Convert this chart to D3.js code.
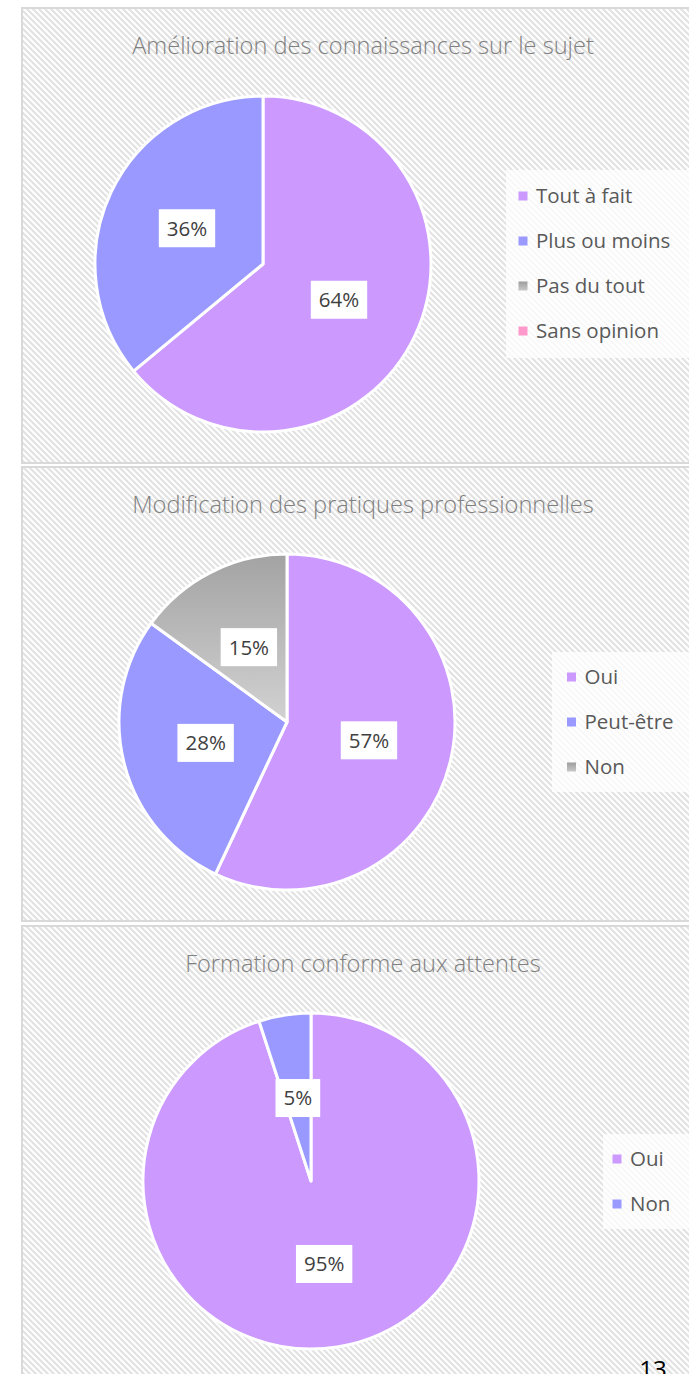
<!DOCTYPE html>
<html><head><meta charset="utf-8">
<script src="https://cdn.jsdelivr.net/npm/d3@7"></script>
<style>
html,body{margin:0;padding:0;background:#fff;overflow:hidden}
svg{display:block}
</style></head>
<body>
<svg id="c" width="689" height="1374"></svg>
<script>
// ---- data ----
const titles = ["Amélioration des connaissances sur le sujet","Modification des pratiques professionnelles","Formation conforme aux attentes"];
const cats1 = ["Tout à fait","Plus ou moins","Pas du tout","Sans opinion"];
const vals1 = [64,36,0,0];
const cats2 = ["Oui","Peut-être","Non"];
const vals2 = [57,28,15];
const cats3 = ["Oui","Non"];
const vals3 = [95,5];
const colorKeys1 = ["purple","blue","gray","pink"];
const colorKeys2 = ["purple","blue","gray"];
const colorKeys3 = ["purple","blue"];
const pageNumber = "13";

const svg = d3.select("#c");
const defs = svg.append("defs");
const hatch = defs.append("pattern").attr("id","hatch").attr("patternUnits","userSpaceOnUse")
  .attr("width",6).attr("height",6);
hatch.append("rect").attr("width",6).attr("height",6).attr("fill","#ffffff");
hatch.append("path").attr("d","M-1,-1 L7,7 M-4,2 L2,8 M4,-2 L8,2").attr("stroke","#e2e2e2").attr("stroke-width",2.1);

const grad = defs.append("linearGradient").attr("id","grayGrad").attr("x1",0).attr("y1",0).attr("x2",0).attr("y2",1);
grad.append("stop").attr("offset","0%").attr("stop-color","#a3a3a3");
grad.append("stop").attr("offset","100%").attr("stop-color","#d2d2d2");
const gradL = defs.append("linearGradient").attr("id","grayGradL").attr("x1",0).attr("y1",0).attr("x2",0).attr("y2",1);
gradL.append("stop").attr("offset","0%").attr("stop-color","#9d9d9d");
gradL.append("stop").attr("offset","100%").attr("stop-color","#c8c8c8");

const fills = {purple:"#cc99ff", blue:"#9999ff", gray:"url(#grayGrad)", pink:"#ff99cc"};
const legFills = {purple:"#cc99ff", blue:"#9999ff", gray:"url(#grayGradL)", pink:"#ff99cc"};

// top cut-off text fragment
svg.append("text").attr("x",560).attr("y",-12).attr("font-family","Open Sans, sans-serif")
  .attr("font-size",26).attr("fill","#7030a0").text("p p");

const panels = [
  {y0:8, y1:463, cx:263, cy:264, title:titles[0], cats:cats1, vals:vals1, keys:colorKeys1, legX:523, legY:196, legBox:[506,170,183,188]},
  {y0:467, y1:921, cx:287, cy:722, title:titles[1], cats:cats2, vals:vals2, keys:colorKeys2, legX:571.5, legY:677, legBox:[552,652,137,140]},
  {y0:926, y1:1390, cx:311, cy:1181, title:titles[2], cats:cats3, vals:vals3, keys:colorKeys3, legX:617, legY:1159, legBox:[603,1134,86,95]}
];
const R = 168;
const legStep = 45;

panels.forEach(p => {
  const g = svg.append("g");
  g.append("rect").attr("x",22).attr("y",p.y0).attr("width",700).attr("height",p.y1-p.y0)
    .attr("fill","url(#hatch)").attr("stroke","#d9d9d9").attr("stroke-width",2);
  g.append("text").attr("x",363).attr("y",p.y0+46).attr("text-anchor","middle")
    .attr("font-family","Open Sans, sans-serif").attr("font-size",23.6).attr("font-weight",300).attr("fill","#808080").text(p.title);

  const data = p.cats.map((c,i)=>({cat:c, v:p.vals[i], key:p.keys[i]}));
  const pie = d3.pie().sort(null).value(d=>d.v);
  const arcs = pie(data);
  const arc = d3.arc().innerRadius(0).outerRadius(R);
  const labelArc = d3.arc().innerRadius(R/2).outerRadius(R/2);
  const pg = g.append("g").attr("transform",`translate(${p.cx},${p.cy})`);
  pg.selectAll("path").data(arcs.filter(a=>a.data.v>0)).join("path")
    .attr("d",arc).attr("fill",d=>fills[d.data.key]).attr("stroke","#fff").attr("stroke-width",3).attr("stroke-linejoin","round");
  const lg = pg.selectAll("g.lab").data(arcs.filter(a=>a.data.v>0)).join("g").attr("class","lab")
    .attr("transform",d=>`translate(${labelArc.centroid(d)})`);
  lg.append("rect").attr("fill","#fff");
  const tx = lg.append("text").attr("text-anchor","middle").attr("dy","0.36em")
    .attr("font-family","Open Sans, sans-serif").attr("font-size",20.5).attr("fill","#404040")
    .text(d=>d.data.v+"%");
  tx.each(function(){
    const w = this.getComputedTextLength();
    d3.select(this.parentNode).select("rect").attr("x",-w/2-8).attr("y",-19).attr("width",w+16).attr("height",38);
  });

  // legend
  const [bx,by,bw,bh] = p.legBox;
  g.append("rect").attr("x",bx).attr("y",by).attr("width",bw).attr("height",bh).attr("fill","#fff").attr("opacity",0.75);
  const ly = d3.scaleLinear().domain([0,1]).range([p.legY,p.legY+legStep]);
  const items = g.selectAll("g.leg").data(data).join("g").attr("class","leg")
    .attr("transform",(d,i)=>`translate(${p.legX},${ly(i)})`);
  items.append("rect").attr("x",-4.5).attr("y",-4.5).attr("width",9).attr("height",9).attr("fill",d=>legFills[d.key]);
  items.append("text").attr("x",13).attr("dy","0.35em").attr("font-family","Open Sans, sans-serif")
    .attr("font-size",20.5).attr("fill","#595959").text(d=>d.cat);
});

svg.append("text").attr("x",653).attr("y",1378).attr("text-anchor","middle").attr("font-family","Open Sans, sans-serif")
  .attr("font-size",24).attr("fill","#000").text(pageNumber);
</script>
</body></html>
